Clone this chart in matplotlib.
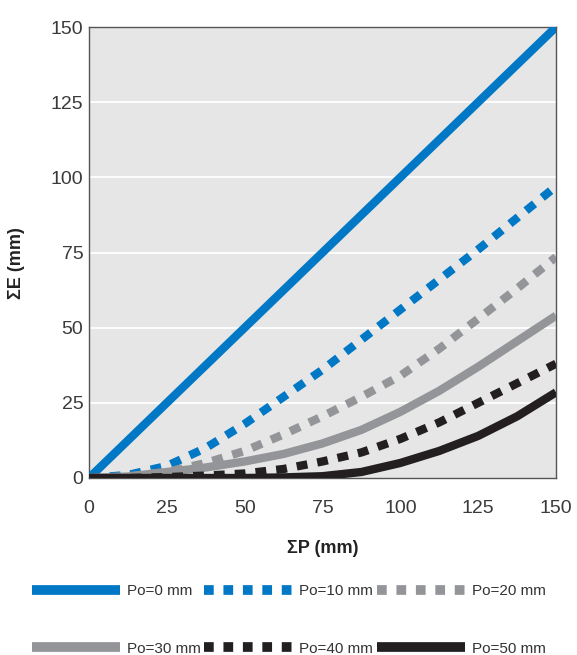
import numpy as np
import matplotlib.pyplot as plt
from matplotlib.lines import Line2D

plt.rcParams['font.family'] = ['Liberation Sans', 'DejaVu Sans']

# Cumulative displacement P (mm) and resulting E (mm) for each preload Po
sum_p = [0, 12.5, 25, 37.5, 50, 62.5, 75, 87.5, 100, 112.5, 125, 137.5, 150]
e_po0 = [0, 12.5, 25, 37.5, 50, 62.5, 75, 87.5, 100, 112.5, 125, 137.5, 150]
e_po10 = [0, 1, 4, 10, 18, 27, 36, 46, 56, 66, 76, 86.5, 97]
e_po20 = [0, 0.5, 2, 5, 9, 14.5, 20.5, 27, 34, 43, 53, 63, 73.5]
e_po30 = [0, 0.5, 2, 3.5, 5.5, 8, 11.5, 16, 22, 29, 37, 45.5, 54]
e_po40 = [0, 0, 0.3, 0.8, 1.5, 3, 5.5, 8.5, 13, 18.5, 25, 31.5, 38]
e_po50 = [0, 0, 0, 0, 0, 0.2, 0.6, 2, 5, 9, 14, 20.5, 28.5]

labels = ['Po=0 mm', 'Po=10 mm', 'Po=20 mm', 'Po=30 mm', 'Po=40 mm', 'Po=50 mm']
ticks = [0, 25, 50, 75, 100, 125, 150]

BLUE = '#0078c6'
GREY = '#939598'
BLACK = '#231f20'
styles = [(BLUE, None), (BLUE, (1.3, 1.2)), (GREY, (1.3, 1.2)),
          (GREY, None), (BLACK, (1.3, 1.2)), (BLACK, None)]
series = [e_po0, e_po10, e_po20, e_po30, e_po40, e_po50]

fig = plt.figure(figsize=(5.77, 6.55), dpi=100)
ax = fig.add_axes([89 / 577, 1 - 478 / 655, 467 / 577, 451 / 655])
ax.set_facecolor('#e6e6e6')

for yv in ticks[1:-1]:
    ax.axhline(yv, color='white', lw=1.3, zorder=1)

for ys, (col, dash), lab in zip(series, styles, labels):
    ln, = ax.plot(sum_p, ys, color=col, lw=6, solid_capstyle='butt',
                  dash_capstyle='butt', solid_joinstyle='round',
                  dash_joinstyle='round', zorder=3, label=lab)
    if dash:
        ln.set_dashes(dash)

ax.set_xlim(0, 150)
ax.set_ylim(0, 150)
ax.set_xticks(ticks)
ax.set_yticks(ticks)
ax.tick_params(length=0, labelsize=14, labelcolor='#3a3a3a')
ax.tick_params(axis='x', pad=16)
ax.tick_params(axis='y', pad=4)
for s in ax.spines.values():
    s.set_color('#555555')
    s.set_linewidth(1)

ax.set_xlabel('ΣP (mm)', fontsize=13, fontweight='bold', color='#222222')
ax.set_ylabel('ΣE (mm)', fontsize=13, fontweight='bold', color='#222222')
ax.xaxis.set_label_coords(0.5, -0.138)
ax.yaxis.set_label_coords(-0.137, 0.477)

# legend handles are drawn a bit thicker than the curves
handles = []
for (col, dash), lab in zip(styles, labels):
    h = Line2D([], [], color=col, lw=7, solid_capstyle='butt',
               dash_capstyle='butt', label=lab)
    if dash:
        h.set_dashes((1, 1))
    handles.append(h)
order = [0, 3, 1, 4, 2, 5]
fig.legend([handles[i] for i in order], [labels[i] for i in order],
           loc='upper left', bbox_to_anchor=(32 / 577, 1 - 584 / 655),
           ncol=3, frameon=False, fontsize=11, handlelength=5.75,
           handletextpad=0.45, columnspacing=0.25, labelspacing=2.85,
           borderpad=0, borderaxespad=0, labelcolor='#333333')

fig.savefig('out.png', dpi=100)
